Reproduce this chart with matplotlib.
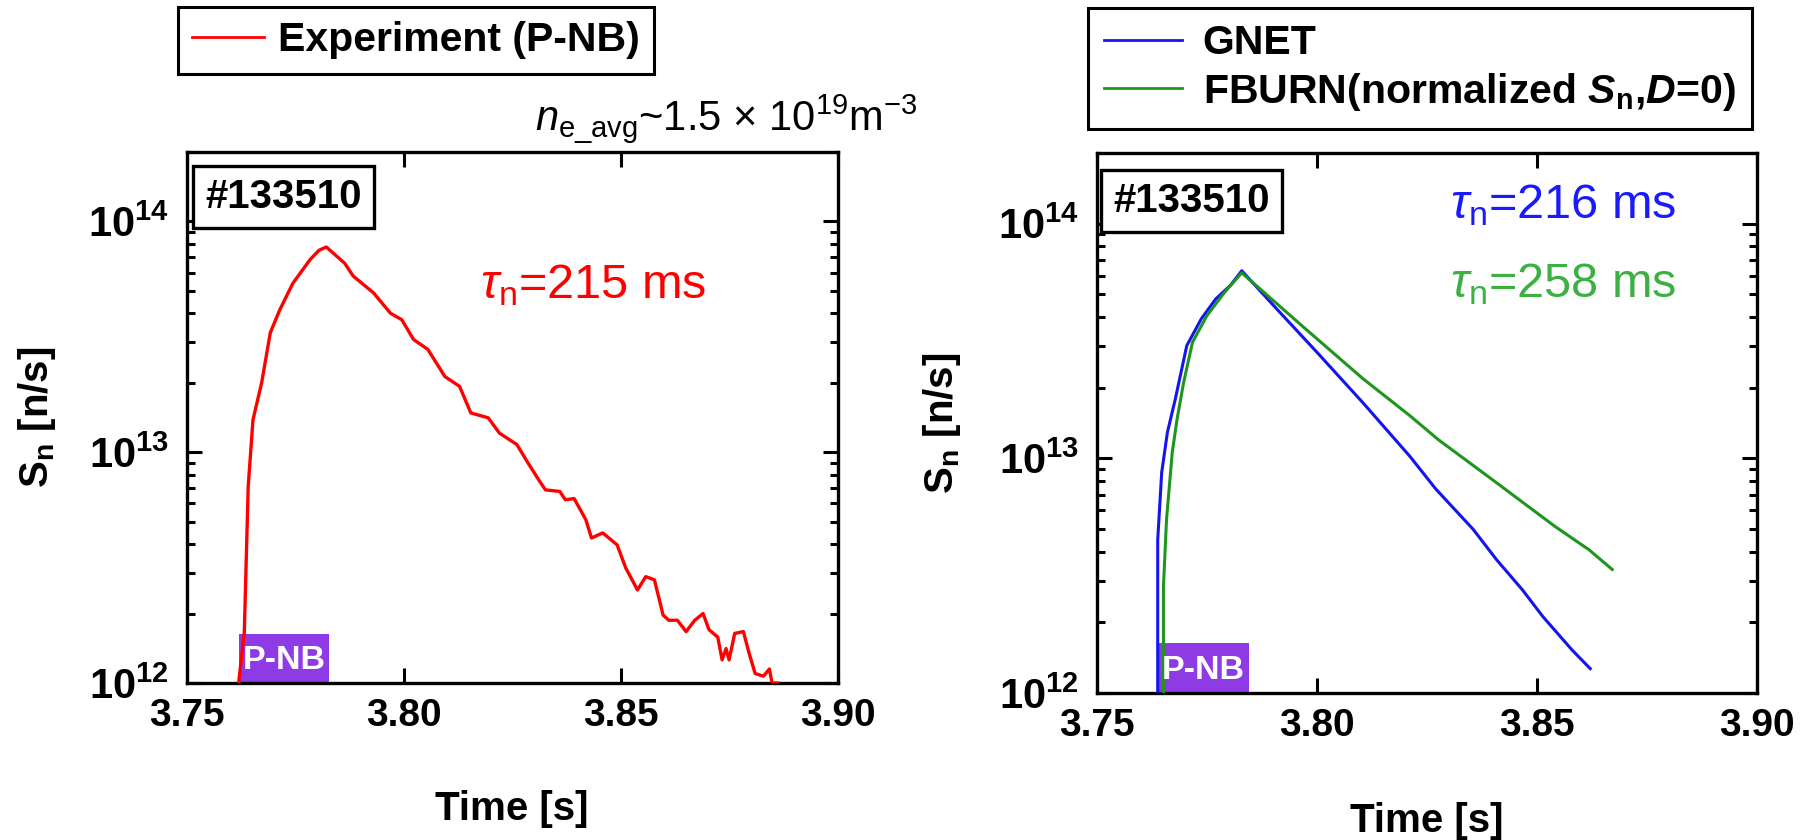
import matplotlib.pyplot as plt
import numpy as np
from matplotlib.ticker import FixedLocator, LogLocator, NullFormatter

plt.rcParams['font.family'] = ['Liberation Sans', 'DejaVu Sans']
plt.rcParams['mathtext.fontset'] = 'custom'
plt.rcParams['mathtext.rm'] = 'Liberation Sans'
plt.rcParams['mathtext.it'] = 'Liberation Sans:italic'
plt.rcParams['mathtext.bf'] = 'Liberation Sans:bold'
plt.rcParams['mathtext.bfit'] = 'Liberation Sans:bold:italic'

# experiment (P-NB), shot #133510
exp_t = [3.7619, 3.7632, 3.7641, 3.7652, 3.7672, 3.7692, 3.7714, 3.7744, 3.7784, 3.7804,
         3.7821, 3.7863, 3.7883, 3.7930, 3.7969, 3.7995, 3.8022, 3.8055, 3.8094, 3.8128,
         3.8154, 3.8194, 3.8220, 3.8260, 3.8286, 3.8313, 3.8326, 3.8359, 3.8372, 3.8392,
         3.8419, 3.8432, 3.8458, 3.8491, 3.8511, 3.8538, 3.8557, 3.8577, 3.8597, 3.8610,
         3.8630, 3.8650, 3.8670, 3.8689, 3.8703, 3.8723, 3.8733, 3.8742, 3.8749, 3.8762,
         3.8782, 3.8795, 3.8809, 3.8828, 3.8842, 3.8848, 3.8861]
exp_sn = [1.0e12, 1.65e12, 7.1e12, 1.38e13, 2.0e13, 3.3e13, 4.15e13, 5.4e13, 6.85e13, 7.5e13,
          7.75e13, 6.6e13, 5.8e13, 4.9e13, 4.0e13, 3.75e13, 3.08e13, 2.79e13, 2.13e13, 1.93e13,
          1.48e13, 1.41e13, 1.21e13, 1.08e13, 8.97e12, 7.46e12, 6.87e12, 6.76e12, 6.22e12, 6.3e12,
          5.1e12, 4.25e12, 4.47e12, 3.97e12, 3.15e12, 2.53e12, 2.89e12, 2.8e12, 1.97e12, 1.87e12,
          1.87e12, 1.67e12, 1.87e12, 2.0e12, 1.7e12, 1.58e12, 1.26e12, 1.41e12, 1.26e12, 1.64e12,
          1.67e12, 1.35e12, 1.1e12, 1.07e12, 1.15e12, 1.0e12, 1.0e12]

# GNET simulation
gnet_t = [3.7638, 3.7638, 3.7647, 3.7660, 3.7678, 3.7704, 3.7737, 3.7770, 3.7803, 3.7829,
          3.7908, 3.8000, 3.8105, 3.8211, 3.8270, 3.8355, 3.8408, 3.8467, 3.8513,
          3.8579, 3.8621]
gnet_sn = [1.0e12, 4.5e12, 8.7e12, 1.29e13, 1.79e13, 3.02e13, 3.93e13, 4.78e13, 5.45e13, 6.3e13,
           4.34e13, 2.83e13, 1.72e13, 1.02e13, 7.4e12, 4.98e12, 3.7e12, 2.75e12, 2.12e12,
           1.53e12, 1.27e12]

# FBURN (normalized Sn, D=0)
fburn_t = [3.7651, 3.7651, 3.7658, 3.7671, 3.7682, 3.7697, 3.7717, 3.7750, 3.7790, 3.7829,
           3.7974, 3.8105, 3.8211, 3.8276, 3.8408, 3.8540, 3.8618, 3.8671]
fburn_sn = [1.0e12, 2.84e12, 5.48e12, 1.06e13, 1.47e13, 2.11e13, 3.12e13, 4.06e13, 5.1e13, 6.17e13,
            3.56e13, 2.18e13, 1.52e13, 1.2e13, 7.87e12, 5.14e12, 4.08e12, 3.36e12]

# P-NB injection marks
pnb_left = [3.7620, 3.7827]
pnb_right = [3.7639, 3.7845]

x_ticks = [3.75, 3.80, 3.85, 3.90]
x_ticklabels = ['3.75', '3.80', '3.85', '3.90']
y_ticks = [1e12, 1e13, 1e14]
y_ticklabels = [r'$\mathbf{10^{12}}$', r'$\mathbf{10^{13}}$', r'$\mathbf{10^{14}}$']

W, H = 1807, 840
fig = plt.figure(figsize=(W / 100, H / 100), dpi=100)
ax1 = fig.add_axes([187 / W, 1 - 683 / H, 651 / W, 531 / H])
ax2 = fig.add_axes([1097 / W, 1 - 693 / H, 660 / W, 540 / H])

purple = '#8E3BE6'


def style(ax):
    ax.set_yscale('log')
    ax.set_xlim(3.75, 3.90)
    ax.set_ylim(1e12, 2e14)
    ax.set_xticks(x_ticks)
    ax.set_xticklabels(x_ticklabels, fontsize=28, fontweight='bold')
    ax.yaxis.set_major_locator(FixedLocator(y_ticks))
    ax.set_yticklabels(y_ticklabels, fontsize=30)
    ax.yaxis.set_minor_locator(LogLocator(base=10, subs=np.arange(2, 10)))
    ax.yaxis.set_minor_formatter(NullFormatter())
    ax.tick_params(which='both', direction='in', top=True, right=True, width=2.2)
    ax.tick_params(which='major', length=11)
    ax.tick_params(which='minor', length=5.5)
    ax.tick_params(axis='x', pad=11)
    ax.tick_params(axis='y', pad=13)
    for s in ax.spines.values():
        s.set_linewidth(2.4)
    ax.set_ylabel(r'$\mathbf{S}_{\mathbf{n}}$ [n/s]', fontsize=29, fontweight='bold')


def pnb(ax, span):
    ax.axvspan(span[0], span[1], ymin=0, ymax=0.093, color=purple, lw=0, zorder=1)
    ax.text((span[0] + span[1]) / 2, 0.042, 'P-NB', transform=ax.get_xaxis_transform(),
            color='white', fontsize=24.5, fontweight='bold', ha='center', va='center', zorder=4)


# left panel
style(ax1)
pnb(ax1, pnb_left)
ax1.plot(exp_t, exp_sn, color='#FF0000', lw=2.4, zorder=3, label='Experiment (P-NB)')
ax1.yaxis.set_label_coords((58 - 187) / 651, 0.5)
leg1 = ax1.legend(loc='upper left', bbox_to_anchor=(178 / W, 1 - 7 / H), bbox_transform=fig.transFigure,
                  borderaxespad=0, fancybox=False, edgecolor='black', framealpha=1,
                  prop={'weight': 'bold', 'size': 29.5}, handlelength=1.75, handletextpad=0.35,
                  borderpad=0.35)
leg1.get_frame().set_linewidth(2.2)
for l in leg1.get_lines():
    l.set_linewidth(2.0)

# right panel
style(ax2)
pnb(ax2, pnb_right)
ax2.plot(gnet_t, gnet_sn, color='#1414F0', lw=2.2, zorder=3, label='GNET')
ax2.plot(fburn_t, fburn_sn, color='#1E961E', lw=2.2, zorder=3,
         label=r'FBURN(normalized $\mathbfit{S}_{\mathbf{n}}$,$\mathbfit{D}$=0)')
ax2.yaxis.set_label_coords((963 - 1097) / 660, 0.5)
leg2 = ax2.legend(loc='upper left', bbox_to_anchor=(1088 / W, 1 - 8 / H), bbox_transform=fig.transFigure,
                  borderaxespad=0, fancybox=False, edgecolor='black', framealpha=1,
                  prop={'weight': 'bold', 'size': 29.5}, handlelength=1.9, handletextpad=0.5,
                  borderpad=0.4, labelspacing=0.2)
leg2.get_frame().set_linewidth(2.2)
for l in leg2.get_lines():
    l.set_linewidth(2.0)

# x labels
fig.text(512 / W, 1 - 820 / H, 'Time [s]', fontsize=29, fontweight='bold', ha='center', va='baseline')
fig.text(1427 / W, 1 - 832 / H, 'Time [s]', fontsize=29, fontweight='bold', ha='center', va='baseline')

# shot number boxes
box = dict(boxstyle='square,pad=0.3', fc='white', ec='black', lw=2.4)
fig.text(205 / W, 1 - 208 / H, '#133510', fontsize=29, fontweight='bold', va='baseline', bbox=box)
fig.text(1113 / W, 1 - 212 / H, '#133510', fontsize=29, fontweight='bold', va='baseline', bbox=box)

# annotations
fig.text(918 / W, 1 - 130 / H, r'$n_{\mathrm{e\_avg}}$~1.5 × 10$^{19}$m$^{-3}$',
         fontsize=30, ha='right', va='baseline')
fig.text(706 / W, 1 - 298 / H, r'$\tau_{\mathrm{n}}$=215 ms', fontsize=35, color='#FF0000',
         ha='right', va='baseline')
fig.text(1676 / W, 1 - 218 / H, r'$\tau_{\mathrm{n}}$=216 ms', fontsize=35, color='#1A1AFF',
         ha='right', va='baseline')
fig.text(1676 / W, 1 - 297 / H, r'$\tau_{\mathrm{n}}$=258 ms', fontsize=35, color='#3CB043',
         ha='right', va='baseline')

fig.savefig('out.png', dpi=100)
